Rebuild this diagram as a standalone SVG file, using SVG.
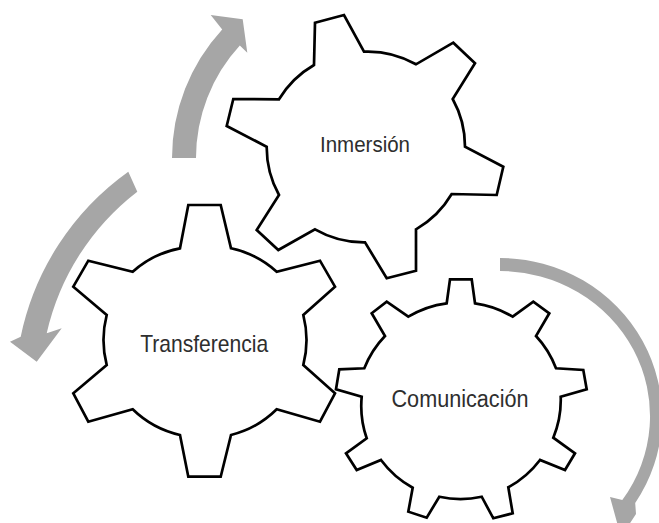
<svg xmlns="http://www.w3.org/2000/svg" width="659" height="523" viewBox="0 0 659 523">
<style>
.gear{fill:#ffffff;stroke:#000000;stroke-width:2.7;stroke-linejoin:miter}
.arrow{fill:#a6a6a6;stroke:none}
.label{font-family:"Liberation Sans",Arial,sans-serif;fill:#2e2e2e;text-anchor:middle}
</style>
<rect width="659" height="523" fill="#ffffff"/>
<g id="connectors">
<path id="arrow-up" class="arrow" d="M 172,158 A 190 190 0 0 1 222.2,29.4 L 210.7,15 L 242.7,19.3 L 247.3,52.7 L 239.8,45.6 A 166 166 0 0 0 196,158 Z"/>
<path id="arrow-left" class="arrow" d="M 128.3,171.7 A 270 270 0 0 0 20.7,336.7 L 10,341.7 L 36.7,361.7 L 61.7,328.3 L 46.7,333.3 A 248 248 0 0 1 137.3,191.7 Z"/>
<path id="arrow-right" class="arrow" d="M 500,258 A 162 158 0 0 1 635.2,503 L 636,514 L 621,537 L 610,497 L 622.3,500 A 150 145 0 0 0 500,271 Z"/>
</g>
<g id="gear-inmersion">
<path class="gear" d="M 314,65 L 315,22.7 L 344,15 L 364,51.7 A 98 98 0 0 1 416,64.3 L 453.3,42.7 L 475,63.3 L 452.7,99 A 98 98 0 0 1 465,146.7 L 503.3,166.7 L 496.7,195 L 451.7,194 A 98 98 0 0 1 416,229.3 L 416,270.7 L 386.7,278.3 L 365,242.3 A 98 98 0 0 1 315,229.3 L 278.3,250 L 256.7,230 L 279,195 A 98 98 0 0 1 266.7,146.7 L 226.7,126 L 233.3,99 L 279,99.3 A 98 98 0 0 1 314,65 Z"/>
<text class="label" x="365" y="152.3" font-size="22" textLength="90" lengthAdjust="spacingAndGlyphs">Inmersión</text>
</g>
<g id="gear-transferencia">
<path class="gear" d="M 180,248.3 L 188.3,205 L 220.7,205 L 231,248.3 A 99 99 0 0 1 276.7,271.7 L 320,260.7 L 335,286.7 L 303.3,315 A 100 100 0 0 1 303.3,365 L 335,393.3 L 320,421.7 L 276.7,409.3 A 99 99 0 0 1 231,435 L 220.7,476.7 L 188.3,476.7 L 180,435 A 99 99 0 0 1 132.7,409.3 L 88.3,421.7 L 73.3,393.3 L 106.7,365 A 100 100 0 0 1 106.7,315 L 73.3,286.7 L 88.3,260.7 L 132.7,271.7 A 99 99 0 0 1 180,248.3 Z"/>
<text class="label" x="204.2" y="351.7" font-size="24" textLength="128" lengthAdjust="spacingAndGlyphs">Transferencia</text>
</g>
<g id="gear-comunicacion">
<path class="gear" d="M 446.7,303.3 L 450,279.3 L 471.7,279.3 L 475,303.3 A 98 98 0 0 1 512.7,316.7 L 533.3,301.7 L 549.3,313.3 L 536,336 A 98 98 0 0 1 556,368.3 L 583.3,370 L 586.7,389.3 L 560.7,396.7 A 98 98 0 0 1 553.3,437.7 L 575,453.3 L 565,470 L 540,460 A 98 98 0 0 1 508.3,487.3 L 512.7,513.3 L 493.3,518.3 L 481.7,496.7 A 98 98 0 0 1 439.3,496.7 L 426.7,517.7 L 408.3,511.7 L 412.7,487.7 A 98 98 0 0 1 381,460 L 356.7,470 L 346,453.3 L 366.7,438.3 A 98 98 0 0 1 361.7,396.7 L 336,389.3 L 339.3,369.3 L 364.3,368.3 A 98 98 0 0 1 385,336 L 371.7,313.3 L 386.7,301.7 L 408.3,316.7 A 98 98 0 0 1 446.7,303.3 Z"/>
<text class="label" x="460" y="406.7" font-size="23" textLength="137" lengthAdjust="spacingAndGlyphs">Comunicación</text>
</g>
</svg>
